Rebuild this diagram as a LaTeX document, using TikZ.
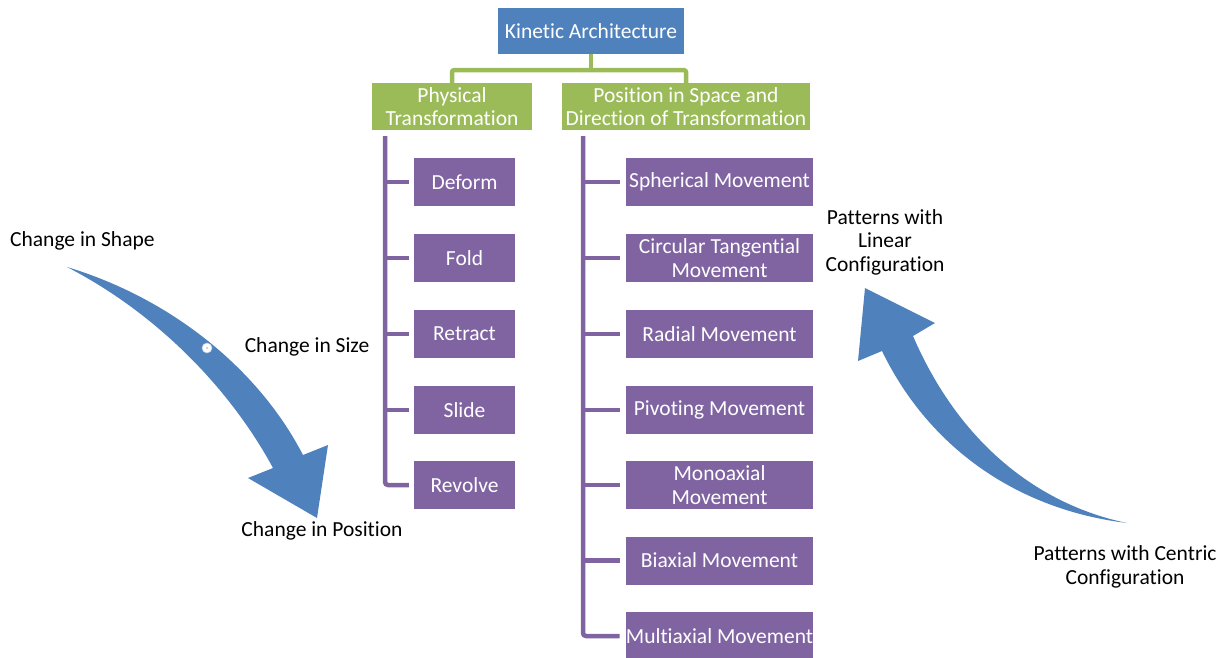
\documentclass[tikz,border=0pt]{standalone}
\usepackage{fontspec}
\setmainfont{Carlito}[Ligatures=NoCommon]
\usetikzlibrary{calc}
\definecolor{kblue}{HTML}{4F81BD}
\definecolor{kgreen}{HTML}{9BBB59}
\definecolor{kpurple}{HTML}{8064A2}
\begin{document}
\begin{tikzpicture}[x=1pt,y=-1pt,
  every node/.style={font=\fontsize{21.5}{23.5}\selectfont, inner sep=0pt, align=center},
  topbox/.style={fill=kblue, text=white, minimum width=186pt, minimum height=46pt},
  greenbox/.style={fill=kgreen, text=white, minimum height=47pt},
  leafbox/.style={fill=kpurple, text=white, minimum height=48pt},
  leftleaf/.style={leafbox, minimum width=101pt},
  rightleaf/.style={leafbox, minimum width=187pt},
  gline/.style={draw=kgreen, line width=4.5pt, rounded corners=2pt},
  pline/.style={draw=kpurple, line width=4.5pt},
  label/.style={text=black},
  bigarrow/.style={fill=kblue, draw=none}
]
\useasboundingbox (0,0) rectangle (1231,657);

% top
\node[topbox] (ka) at (591,31) {Kinetic Architecture};
\node[greenbox, minimum width=160pt] (phys) at (452,106.5) {Physical\\Transformation};
\node[greenbox, minimum width=248pt] (pos) at (686,106.5) {Position in Space and\\Direction of Transformation};

\draw[gline] ([yshift=-5pt]phys.north) |- ($(ka.south)+(0,16)$) -| ([yshift=-5pt]pos.north);
\draw[gline] (ka.south) -- ($(ka.south)+(0,16)$);

% left leaves
\node[leftleaf] (deform) at (464.5,182) {Deform};
\node[leftleaf] (fold) at (464.5,258) {Fold};
\node[leftleaf] (retract) at (464.5,334) {Retract};
\node[leftleaf] (slide) at (464.5,410) {Slide};
\node[leftleaf] (revolve) at (464.5,485) {Revolve};

% right leaves
\node[rightleaf] (sph) at (719.5,182) {Spherical Movement};
\node[rightleaf] (circ) at (719.5,258) {Circular Tangential\\Movement};
\node[rightleaf] (rad) at (719.5,334) {Radial Movement};
\node[rightleaf] (piv) at (719.5,410) {Pivoting Movement};
\node[rightleaf] (mono) at (719.5,485) {Monoaxial\\Movement};
\node[rightleaf] (bi) at (719.5,560.5) {Biaxial Movement};
\node[rightleaf] (multi) at (719.5,636) {Multiaxial Movement};

% purple connectors
\coordinate (lt) at (385,136);
\coordinate (rt) at (583,136);
\draw[pline, rounded corners=3pt] (lt) |- ([xshift=-5pt]revolve.west);
\foreach \n in {deform,fold,retract,slide}
  \draw[pline] (\n.west -| lt) -- ([xshift=-5pt]\n.west);
\draw[pline, rounded corners=3pt] (rt) |- ([xshift=-6pt]multi.west);
\foreach \n in {sph,circ,rad,piv,mono,bi}
  \draw[pline] (\n.west -| rt) -- ([xshift=-6pt]\n.west);

% labels
\node[label, anchor=west] (shape) at (10,241) {Change in Shape};
\node[label] (size) at (307,347) {Change in Size};
\node[label] (position) at (322,531) {Change in Position};
\node[label] (linear) at (885,242) {Patterns with\\Linear\\Configuration};
\node[label] (centric) at (1125,567) {Patterns with Centric\\Configuration};

% left curved arrow
\fill[bigarrow] (67,267) .. controls (170,298) and (258,368) .. (303,455)
  -- (328,445) -- (317,518) -- (248,478) -- (273,468)
  .. controls (232,392) and (160,315) .. (67,267) -- cycle;
\filldraw[fill=white, draw=kblue!40, line width=0.6pt] (207,348) circle (5pt);
\fill[kblue!60] (207,348) circle (0.8pt);

% right curved arrow
\fill[bigarrow] (1127,523) .. controls (1040,505) and (960,445) .. (913,336)
  -- (935,323) -- (865,288) -- (858,361) -- (882,351)
  .. controls (930,450) and (1020,510) .. (1127,523) -- cycle;
\end{tikzpicture}
\end{document}
